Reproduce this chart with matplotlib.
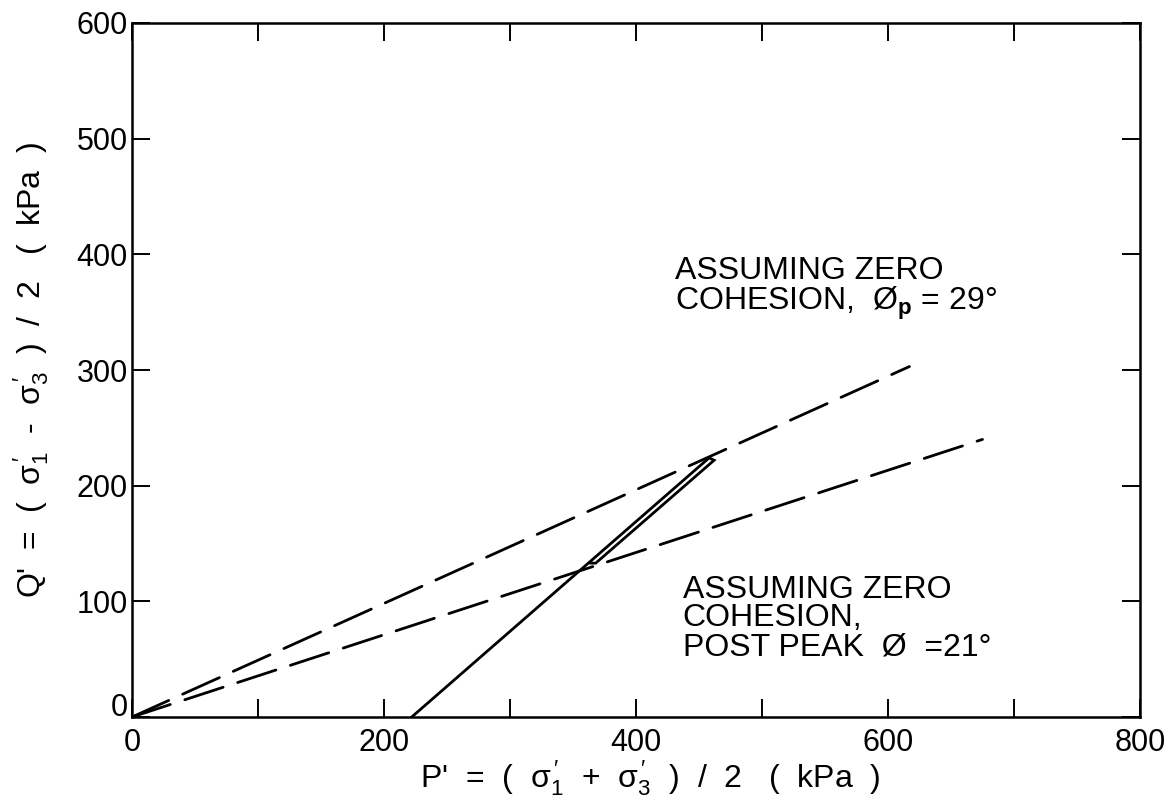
import matplotlib
matplotlib.use("Agg")
import matplotlib.pyplot as plt
from matplotlib.transforms import ScaledTranslation

plt.rcParams['font.family'] = ['Liberation Sans', 'DejaVu Sans']
plt.rcParams['mathtext.fontset'] = 'custom'
plt.rcParams['mathtext.rm'] = 'Liberation Sans'
plt.rcParams['mathtext.it'] = 'Liberation Sans'
plt.rcParams['mathtext.bf'] = 'Liberation Sans:bold'

# Data (kPa)
peak_p = [0, 617]
peak_q = [0, 303]
post_p = [0, 675]
post_q = [0, 240]
path_p = [222, 458, 462, 368, 364]
path_q = [0, 224, 222, 133, 133]

xticks_major = [0, 200, 400, 600, 800]
xticks_all = [0, 100, 200, 300, 400, 500, 600, 700, 800]
yticks = [0, 100, 200, 300, 400, 500, 600]

fig = plt.figure(figsize=(11.75, 8.08), dpi=100)
ax = fig.add_axes([132/1175, 1-717/808, (1140-132)/1175, (717-23)/808])

ax.plot(peak_p, peak_q, color='black', lw=2.0, dashes=(14.5, 5.5), dash_capstyle='round')
ax.plot(post_p, post_q, color='black', lw=2.0, dashes=(14.5, 5.5), dash_capstyle='round')
ax.plot(path_p, path_q, color='black', lw=2.0, solid_joinstyle='miter')

ax.set_xlim(0, 800)
ax.set_ylim(0, 600)
ax.set_xticks(xticks_all)
ax.set_xticklabels([str(t) if t in xticks_major else '' for t in xticks_all])
ax.set_yticks(yticks)
ax.set_yticklabels([str(t) for t in yticks])
ax.tick_params(direction='in', length=13, width=1.4, top=True, right=True,
               labelsize=22, colors='black')
ax.tick_params(axis='x', pad=8)
ax.tick_params(axis='y', pad=3)
for s in ax.spines.values():
    s.set_linewidth(1.8)

# raise the y "0" label
lbl0 = ax.get_yticklabels()[0]
lbl0.set_transform(lbl0.get_transform() + ScaledTranslation(0, 12/100, fig.dpi_scale_trans))

s1 = r"$\mathrm{\sigma}_{1}^{\,\prime}$"
s3 = r"$\mathrm{\sigma}_{3}^{\,\prime}$"
ax.set_xlabel("P'  =  (  " + s1 + "  +  " + s3 + "  )  /  2   (  kPa  )", fontsize=23)
ax.set_ylabel("Q'  =  (  " + s1 + "  -  " + s3 + "  )  /  2   (  kPa  )", fontsize=23)
ax.xaxis.set_label_coords(0.514, -0.060)
ax.yaxis.set_label_coords(-0.080, 0.50)

tkw = dict(fontsize=23, ha='left', va='center', color='black')
ax.text(431, 386, "ASSUMING ZERO", **tkw)
ax.text(431, 358, r"COHESION,  Ø$_{\mathbf{p}}$ = 29°", **tkw)
ax.text(437, 110, "ASSUMING ZERO", **tkw)
ax.text(437, 85.5, "COHESION,", **tkw)
ax.text(437, 60.5, "POST PEAK  Ø  =21°", **tkw)

fig.savefig("out.png", dpi=100)
